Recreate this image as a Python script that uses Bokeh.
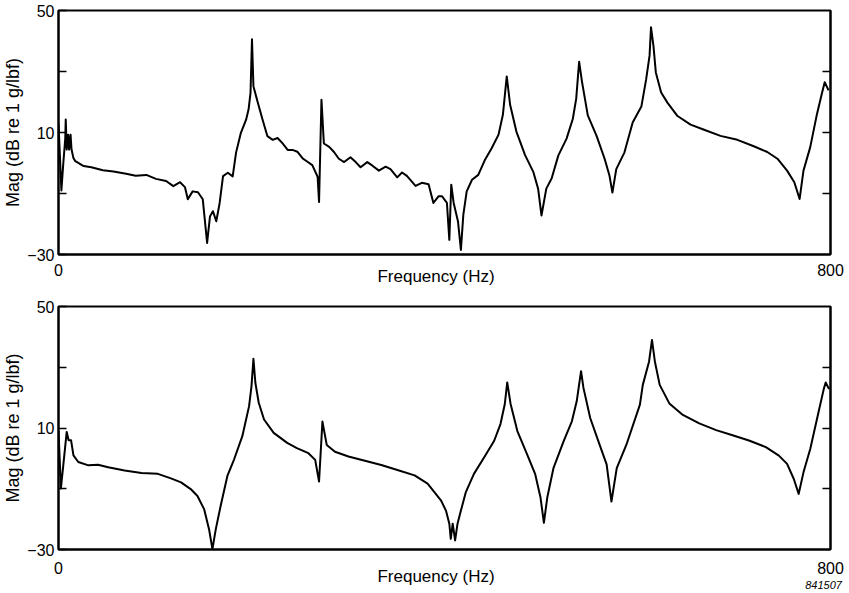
from bokeh.plotting import figure
from bokeh.models import FixedTicker, LinearAxis, Range1d
from bokeh.layouts import column
from bokeh.embed import file_html
from bokeh.resources import INLINE

# ---------------- data ----------------
top_freq = [0, 1.5, 3, 5, 7, 7.5, 8.5, 10, 11, 12.5,
            13.5, 15.5, 17.5, 26, 34, 46, 57, 70, 80, 91,
            101, 111.5, 119, 126, 131, 134, 139, 144.5, 149.5, 154,
            157, 160, 163.5, 167, 170.5, 175.5, 180.5, 184, 189, 194.5,
            197, 199, 200.5, 202, 206.5, 211.5, 216.5, 222, 227, 232,
            237.5, 242.5, 247.5, 253, 258, 263, 268.5, 270, 272.5, 275,
            280.5, 285.5, 290.5, 296, 302.5, 308, 313, 320, 325, 332,
            339, 344, 351, 356, 361, 370, 376.5, 383.5, 388.5, 394,
            397.5, 402.5, 405, 407, 409.5, 414, 417, 419.5, 423, 428.5,
            435, 442, 449, 456, 460.5, 464.5, 468, 474.5, 483.5, 492,
            497, 500.5, 505.5, 511, 518, 526.5, 533, 536.5, 539.5, 542.5,
            548.5, 557.5, 566, 571, 574, 578, 586.5, 595, 604, 609,
            612.5, 614, 616.5, 619, 624.5, 631, 641.5, 655, 669, 686,
            703.5, 720.5, 734.5, 745, 755, 762.5, 768, 772, 779, 786,
            791, 794, 798]
top_mag = [13, 2, -9, 0, 8, 14.3, 4.4, 9.3, 4.4, 9.3,
           4.4, 1.6, 0.6, -1.0, -1.4, -2.4, -2.8, -3.5, -4.2, -3.9,
           -5.2, -5.9, -7.6, -6.3, -7.9, -11.9, -9.3, -9.6, -11.9, -26.2,
           -17.5, -15.8, -19.1, -13.1, -4.3, -3.2, -4.4, 3.4, 9.9, 14.3,
           17.6, 23.1, 40.6, 25.2, 19.8, 14.2, 8.8, 7.6, 8.2, 6.5,
           4.3, 4.3, 3.7, 1.5, 0.4, -0.7, -4.5, -12.8, 20.7, 6.4,
           5.3, 3.6, 1.4, 0.3, 1.9, 0.3, -1.4, 0.3, -0.8, -2.5,
           -1.2, -2, -4.7, -3.1, -4.2, -7.5, -6.5, -7, -13.1, -10.9,
           -10.9, -13.1, -25.2, -7.1, -13.1, -19.2, -28.5, -17, -9.3, -5.5,
           -3.9, 1.1, 4.9, 9.3, 15.8, 28.4, 19.1, 10.3, 2.6, -2.9,
           -8.4, -17.2, -8.4, -5.1, 2.5, 8, 14.5, 21.1, 33.2, 26.6,
           15.6, 9, 1.3, -4.2, -9.7, -2, 3.5, 13.3, 18.5, 27.5,
           35.2, 44.5, 38.5, 29.7, 23.1, 19.8, 15.4, 12.6, 10.9, 8.9,
           7.6, 5.5, 3.6, 1.4, -2.5, -6.3, -11.8, -2.5, 5.2, 16.1,
           22.7, 26.5, 23.8]

bot_freq = [0, 2.5, 8.5, 10.5, 13, 15.5, 20.5, 31, 41, 51.5,
            68.5, 86, 103, 116.5, 127, 137, 144, 151, 156, 159.5,
            163, 168, 175, 182, 190.5, 197.5, 200, 202, 204, 207.5,
            213, 223, 237, 247, 259, 266, 270, 273.5, 278, 286.5,
            300.5, 317.5, 334.5, 352, 369, 382.5, 396.5, 401.5, 405, 406.5,
            408.5, 411, 413.5, 417, 422, 430.5, 441, 451.5, 458, 462.5,
            465, 468.5, 475.5, 485.5, 494, 499.5, 503, 506.5, 513, 523.5,
            532, 537, 541.5, 544, 551, 559.5, 568, 573, 578.5, 588.5,
            602.5, 605.5, 612, 615, 618, 623, 633, 647, 664, 681.5,
            698.5, 715.5, 733, 746.5, 755, 762, 767, 772, 779, 787.5,
            793, 795, 798.5]
bot_mag = [9, -9.9, 8.7, 6, 6, 1, -1.2, -2.3, -2.1, -2.9,
           -4, -4.8, -5.1, -6.6, -7.9, -10.1, -12.4, -16.8, -23.3, -29.9,
           -23.3, -15.7, -5.8, -0.3, 7.3, 17.2, 23.8, 32.8, 24.9, 18.3,
           12.8, 8.4, 5.1, 3.4, 1.7, -0.5, -7.6, 12.1, 4.4, 2.2,
           0.6, -0.8, -2.2, -3.9, -5.6, -8.3, -13.9, -17.2, -21.5, -26.5,
           -21.5, -27, -21.5, -17.2, -11.2, -5.1, 0.3, 5.8, 11.3, 17.9,
           25, 17.9, 9, 1.4, -5.2, -12.9, -21.2, -12.9, -3.1, 5.7,
           12.2, 18.8, 28.7, 23.2, 13.3, 5.6, -2, -14.2, -3.2, 4.5,
           17.7, 24.2, 31.9, 39, 31.9, 24.2, 18.1, 14.3, 11.5, 9.3,
           7.6, 5.9, 3.7, 0.9, -1.8, -6.8, -11.7, -4.6, 3.1, 15.1,
           22.8, 25, 22.8]

x_ticks = [0, 800]
y_ticks = [-30, -10, 10, 30, 50]
y_tick_labels = {-30: "\u221230", -10: "", 10: "10", 30: "", 50: "50"}
right_ticks = [-10, 10, 30]
x_label = "Frequency (Hz)"
y_label = "Mag (dB re 1 g/lbf)"
code_label = "841507"

FONT = "Liberation Sans"


def bare_axis(axis):
    axis.axis_line_color = None
    axis.major_tick_line_color = None
    axis.minor_tick_line_color = None
    axis.major_tick_in = 0
    axis.major_tick_out = 0
    axis.minor_tick_in = 0
    axis.minor_tick_out = 0


def panel(freq, mag, height, top, bottom, tick_standoff, xlab_standoff, code=False):
    p = figure(width=849, height=height, x_range=Range1d(0, 800), y_range=Range1d(-30, 50),
               output_backend="svg", toolbar_location=None, title=None,
               min_border_left=55, min_border_right=19,
               min_border_top=top, min_border_bottom=bottom,
               background_fill_color="white", border_fill_color="white")
    p.xgrid.visible = False
    p.ygrid.visible = False
    p.outline_line_color = "black"
    p.outline_line_width = 2
    p.outline_line_alpha = 1

    p.line(freq, mag, line_color="black", line_width=2, line_join="round")

    xa = p.xaxis[0]
    xa.ticker = FixedTicker(ticks=x_ticks)
    xa.major_tick_in = 0
    xa.major_tick_out = 0
    xa.minor_tick_in = 0
    xa.minor_tick_out = 0
    xa.major_label_standoff = tick_standoff
    xa.major_label_text_font = FONT
    xa.major_label_text_font_size = "16px"
    xa.major_label_text_color = "black"
    xa.axis_line_width = 2
    xa.axis_line_color = "black"

    ya = p.yaxis[0]
    ya.ticker = FixedTicker(ticks=y_ticks)
    ya.major_label_overrides = y_tick_labels
    ya.major_tick_in = 8
    ya.major_tick_out = 0
    ya.minor_tick_in = 0
    ya.minor_tick_out = 0
    ya.major_tick_line_width = 1.5
    ya.major_tick_line_color = "black"
    ya.major_label_standoff = 4
    ya.major_label_text_font = FONT
    ya.major_label_text_font_size = "16px"
    ya.major_label_text_color = "black"
    ya.axis_line_width = 2
    ya.axis_line_color = "black"
    ya.axis_label = y_label
    ya.axis_label_standoff = 1
    ya.axis_label_text_font = FONT
    ya.axis_label_text_font_size = "18px"
    ya.axis_label_text_font_style = "normal"
    ya.axis_label_text_color = "black"

    ra = LinearAxis(ticker=FixedTicker(ticks=right_ticks),
                    major_label_overrides={t: "" for t in right_ticks},
                    major_tick_in=8, major_tick_out=0,
                    minor_tick_in=0, minor_tick_out=0,
                    major_label_standoff=0,
                    major_tick_line_width=1.5, major_tick_line_color="black",
                    axis_line_width=2, axis_line_color="black")
    p.add_layout(ra, "right")

    # helper scale used only to position the x-axis title and the figure code
    p.extra_x_ranges = {"lbl": Range1d(0, 1000)}
    la = LinearAxis(x_range_name="lbl", ticker=FixedTicker(ticks=[489]),
                    major_label_overrides={489: x_label},
                    major_label_standoff=xlab_standoff,
                    major_label_text_font=FONT, major_label_text_font_size="17px",
                    major_label_text_color="black")
    bare_axis(la)
    p.add_layout(la, "below")
    if code:
        ca = LinearAxis(x_range_name="lbl", ticker=FixedTicker(ticks=[991]),
                        major_label_overrides={991: code_label},
                        major_label_standoff=-8,
                        major_label_text_font=FONT, major_label_text_font_size="11px",
                        major_label_text_font_style="italic",
                        major_label_text_color="black")
        bare_axis(ca)
        p.add_layout(ca, "below")
    return p


p1 = panel(top_freq, top_mag, 296, 10, 42, 9, -12)
p2 = panel(bot_freq, bot_mag, 297, 10, 44, 12, -10, code=True)

layout = column(p1, p2)
open("out.html", "w").write(file_html(layout, INLINE))
